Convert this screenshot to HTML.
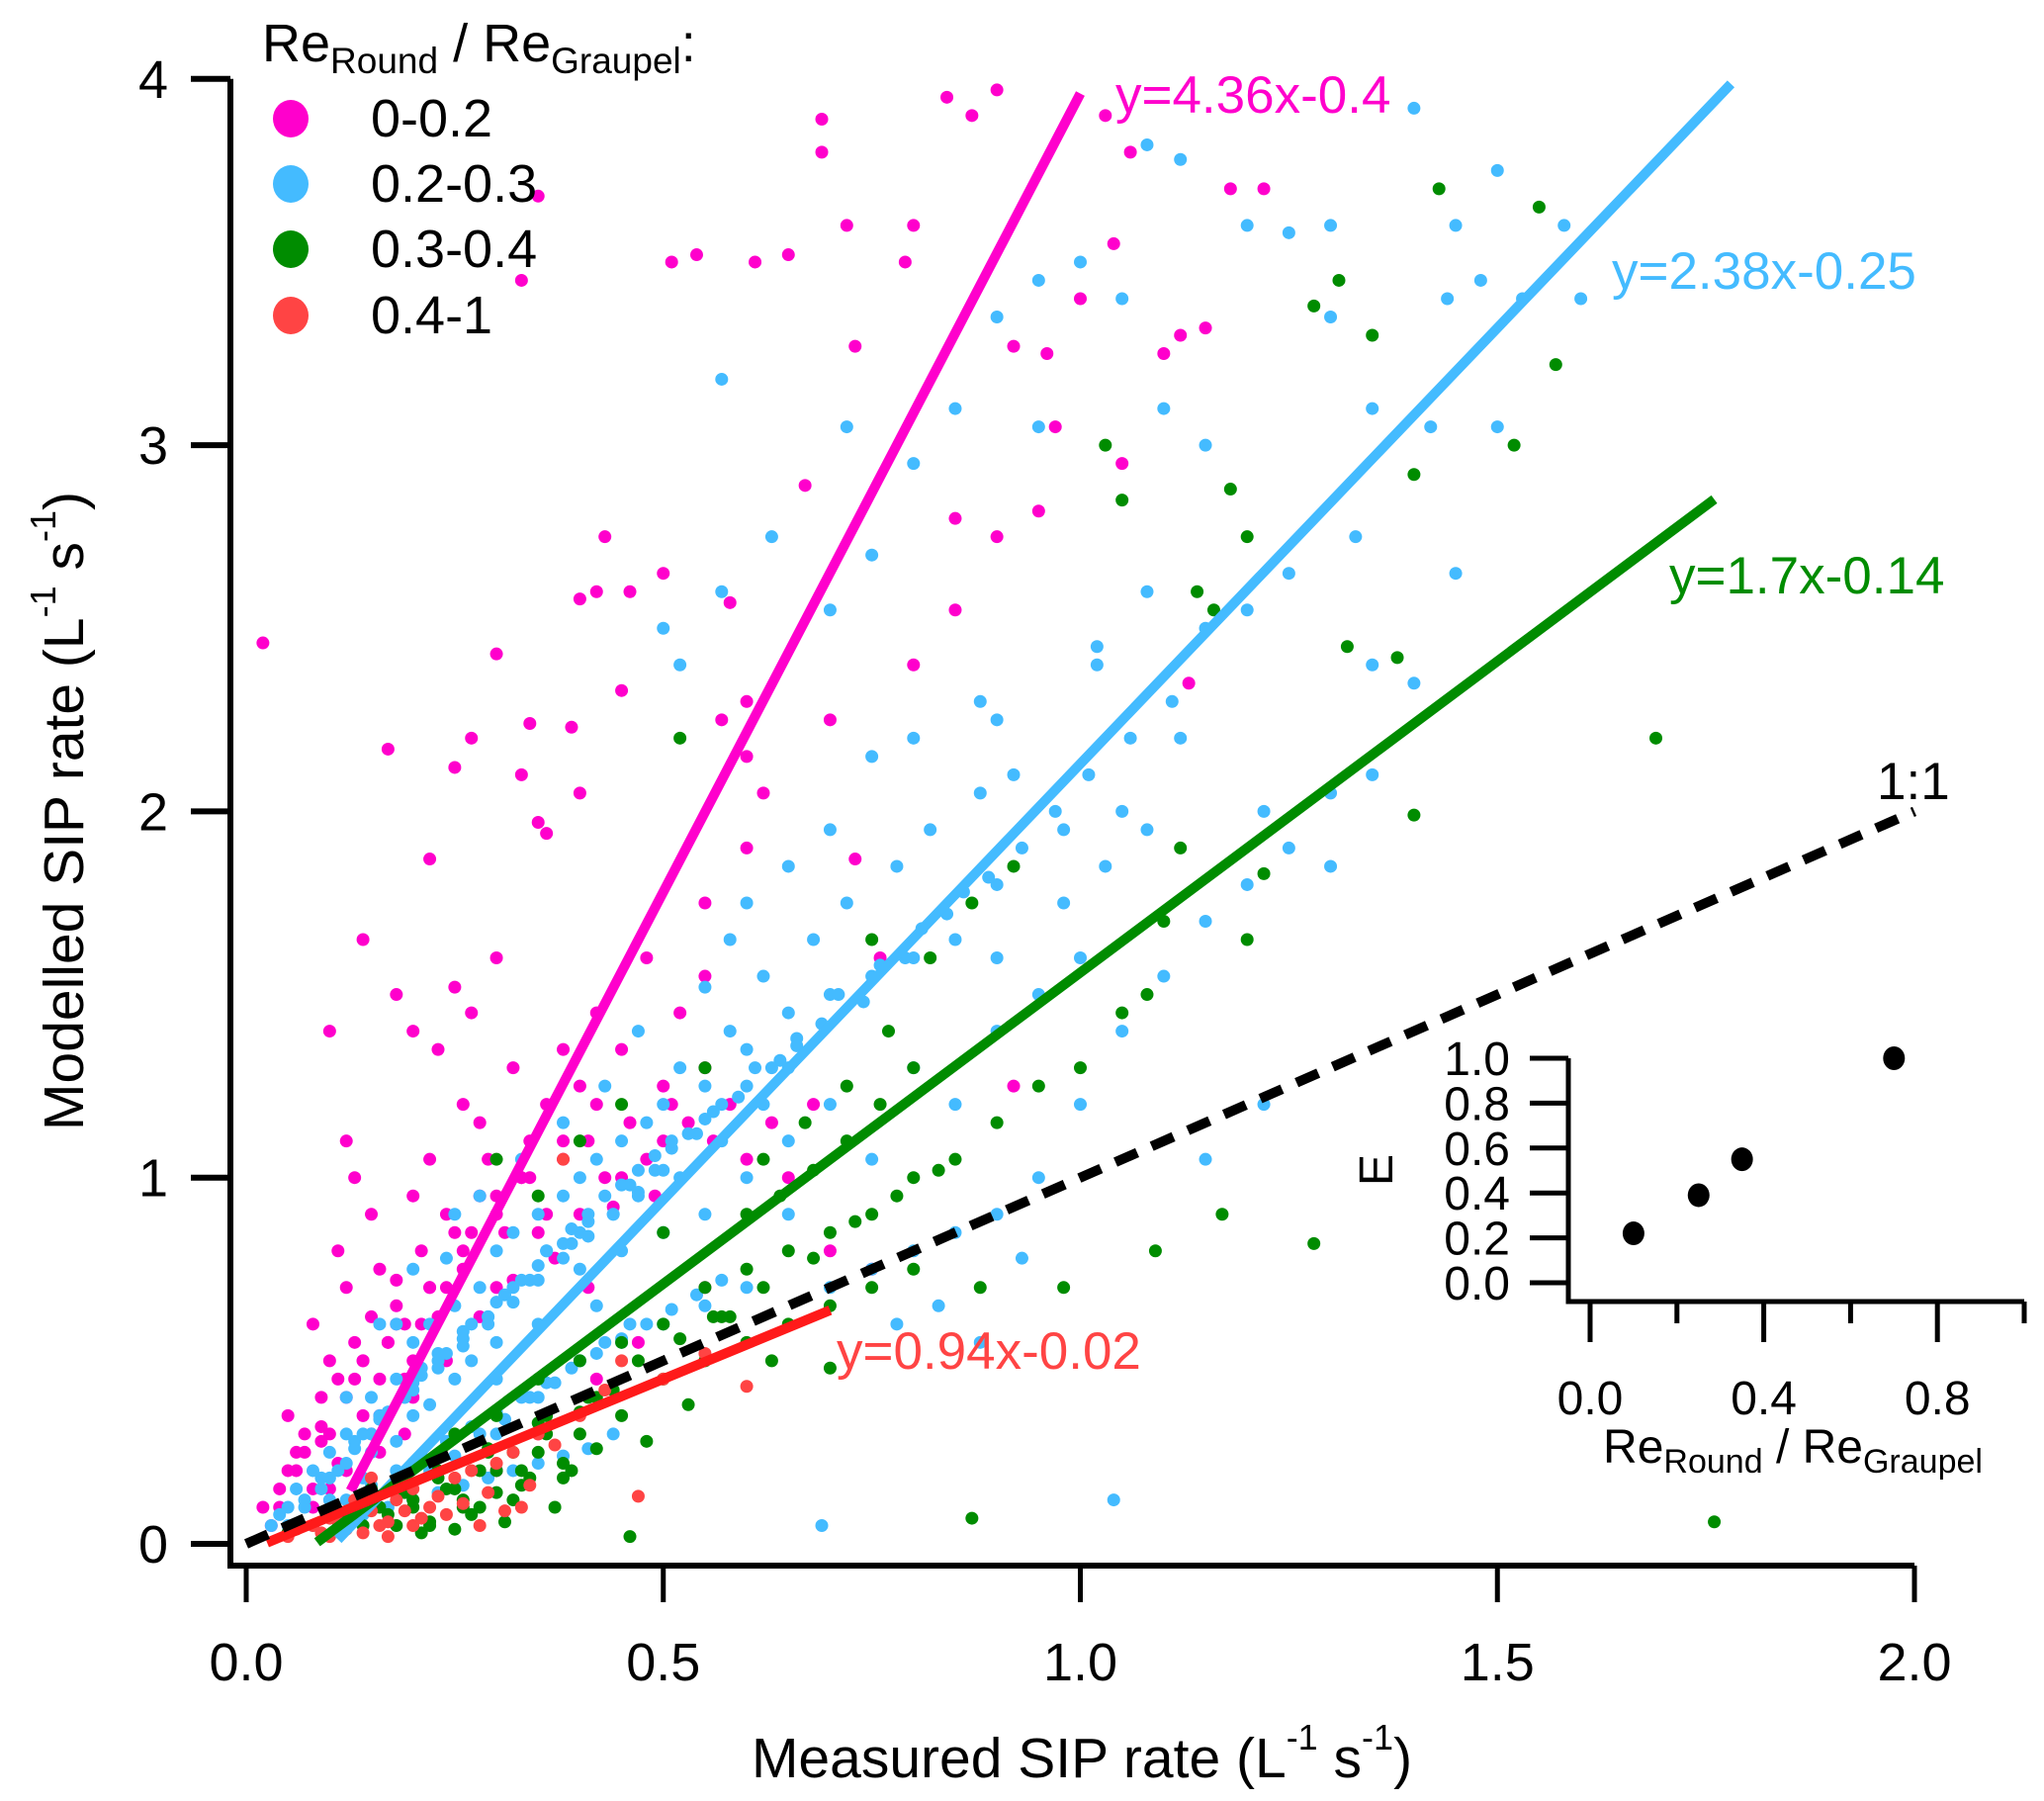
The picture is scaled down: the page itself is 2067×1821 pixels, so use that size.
<!DOCTYPE html>
<html><head><meta charset="utf-8"><style>
html,body{margin:0;padding:0;background:#fff;}
svg{display:block;font-family:"Liberation Sans",Arial,sans-serif;}
</style></head><body>
<svg id="chart" width="2067" height="1821" viewBox="0 0 2067 1821" xmlns="http://www.w3.org/2000/svg">
<g id="points"></g>
<g id="lines"></g>
<g id="axes"></g>
<g id="inset"></g>
<g>
<text x="265" y="62" font-size="54">Re<tspan font-size="37" dy="12">Round</tspan><tspan dy="-12"> / Re</tspan><tspan font-size="37" dy="12">Graupel</tspan><tspan dy="-12">:</tspan></text>
<g><ellipse cx="294" cy="120" rx="18" ry="19" fill="#ff00cc"/><text x="375" y="138" font-size="54">0-0.2</text></g>
<g><ellipse cx="294" cy="186" rx="18" ry="19" fill="#44bbff"/><text x="375" y="204" font-size="54">0.2-0.3</text></g>
<g><ellipse cx="294" cy="252" rx="18" ry="19" fill="#008c00"/><text x="375" y="270" font-size="54">0.3-0.4</text></g>
<g><ellipse cx="294" cy="319" rx="18" ry="19" fill="#ff4444"/><text x="375" y="337" font-size="54">0.4-1</text></g>
</g>
<text x="1128" y="114" font-size="53" fill="#ff00cc">y=4.36x-0.4</text>
<text x="1630" y="292" font-size="53" fill="#44bbff">y=2.38x-0.25</text>
<text x="1688" y="600" font-size="53" fill="#008c00">y=1.7x-0.14</text>
<text x="1898" y="808" font-size="53" fill="#000">1:1</text>
<text x="846" y="1384" font-size="53" fill="#ff4444">y=0.94x-0.02</text>
<text x="1094" y="1797" font-size="57" text-anchor="middle">Measured SIP rate (L<tspan font-size="36" dy="-28">-1</tspan><tspan dy="28"> s</tspan><tspan font-size="36" dy="-28">-1</tspan><tspan dy="28">)</tspan></text>
<text transform="translate(84,820) rotate(-90)" font-size="57" text-anchor="middle">Modelled SIP rate (L<tspan font-size="36" dy="-28">-1</tspan><tspan dy="28"> s</tspan><tspan font-size="36" dy="-28">-1</tspan><tspan dy="28">)</tspan></text>
</svg>
<script>
const NS="http://www.w3.org/2000/svg";
const xTicks=[0,0.5,1.0,1.5,2.0];
const xTickLabels=["0.0","0.5","1.0","1.5","2.0"];
const yTicks=[0,1,2,3,4];
const yTickLabels=["0","1","2","3","4"];
const magentaX=[0.02,0.17,0.35,0.33,0.69,0.69,0.72,0.84,0.87,0.9,0.8,0.79,0.73,0.65,0.51,0.54,0.61,0.5,0.43,0.42,0.46,0.4,0.58,0.67,0.3,0.27,0.25,0.22,0.34,0.35,0.36,0.33,0.45,0.39,0.57,0.6,0.4,0.48,0.55,0.6,0.73,0.76,0.97,0.92,0.96,1.0,1.04,1.03,1.06,1.1,1.12,1.15,1.18,1.05,0.8,0.85,0.9,0.95,0.1,0.12,0.14,0.18,0.2,0.23,0.25,0.27,0.3,0.15,0.12,0.08,0.1,0.05,0.07,0.04,0.06,0.09,0.11,0.13,0.16,0.18,0.2,0.22,0.24,0.26,0.28,0.3,0.32,0.34,0.36,0.38,0.4,0.42,0.45,0.5,0.52,0.55,0.17,0.19,0.21,0.14,0.16,0.12,0.03,0.02,0.08,0.1,0.3,0.35,0.4,0.45,0.5,0.6,0.65,0.7,0.75,0.92,0.3,0.35,0.42,0.47,0.55,0.85,0.6,0.62,0.7,0.55,1.13,1.22,0.06,0.09,0.11,0.13,0.15,0.18,0.21,0.24,0.27,0.29,0.33,0.37,0.41,0.44,0.49,0.53,0.58,0.63,0.68,
0.04,0.05,0.07,0.08,0.1,0.11,0.12,0.14,0.15,0.16,0.17,0.19,0.2,0.22,0.23,0.25,0.26,0.28,0.31,0.33,0.36,0.38,0.41,0.43,0.46,0.48,0.51,0.56,0.14,0.18,0.22,0.26,0.3,0.34,0.38,0.42,0.2,0.24,0.28,0.32,0.13,0.16,0.19,0.09];
const magentaY=[2.46,2.17,3.68,3.45,3.89,3.8,3.6,3.95,3.9,3.97,3.6,3.5,3.27,3.52,3.5,3.52,3.5,2.65,2.75,2.6,2.6,2.58,2.57,2.89,2.43,2.2,2.12,1.87,2.24,1.97,1.94,2.1,2.33,2.23,2.25,2.3,2.05,1.6,1.75,1.9,1.87,1.6,3.05,3.27,3.25,3.4,3.55,3.9,3.8,3.25,3.3,3.32,3.7,2.95,2.4,2.55,2.75,2.82,1.4,1.1,1.65,1.5,1.4,1.35,1.52,1.45,1.6,0.9,0.7,0.6,0.5,0.35,0.3,0.15,0.2,0.4,0.8,1.0,0.75,0.65,0.95,1.05,0.9,1.2,1.15,0.95,1.3,1.1,1.2,1.35,1.25,1.45,1.35,1.25,1.45,1.3,0.55,0.45,0.6,0.35,0.25,0.2,0.05,0.1,0.1,0.15,0.7,0.85,0.9,1.0,1.1,1.05,1.0,0.8,0.75,1.25,0.2,0.3,0.45,0.55,0.7,2.8,2.15,2.05,2.25,1.55,2.35,3.7,0.25,0.32,0.45,0.55,0.62,0.72,0.8,0.7,0.85,1.05,1.0,0.78,0.7,0.92,0.95,1.15,1.2,1.15,1.2,
0.1,0.2,0.25,0.15,0.3,0.22,0.4,0.5,0.3,0.45,0.55,0.6,0.5,0.7,0.62,0.85,0.75,0.95,0.85,1.0,0.9,1.05,1.1,1.0,1.15,1.05,1.2,1.1,0.5,0.6,0.7,0.8,0.9,1.0,1.1,1.2,0.4,0.5,0.62,0.72,0.45,0.35,0.3,0.28];
const blueX=[1.08,1.12,1.4,1.5,1.2,1.25,1.3,1.45,1.48,1.53,1.0,0.95,0.9,1.05,1.1,1.15,1.3,1.35,1.42,1.44,1.58,1.6,1.45,1.5,0.95,0.85,0.8,0.75,0.7,0.63,0.57,0.5,0.52,0.57,0.72,0.88,0.9,1.02,1.12,1.22,1.25,1.3,1.35,1.4,1.35,1.3,0.98,0.9,0.85,0.8,0.75,0.7,0.65,0.6,0.55,0.5,0.45,0.4,0.35,0.3,0.25,0.2,0.15,0.1,0.05,0.08,0.12,0.18,0.22,0.28,0.32,0.38,0.42,0.48,0.52,0.58,0.62,0.68,0.72,0.78,0.82,0.88,0.92,0.6,0.65,0.7,0.75,0.8,0.85,0.9,0.95,1.0,1.05,1.1,1.15,1.2,1.0,0.95,0.9,0.85,0.8,0.75,0.7,0.65,0.55,0.5,0.45,0.4,0.35,0.3,0.25,0.2,0.15,0.1,0.3,0.35,0.4,0.45,0.5,0.55,0.6,0.78,0.83,0.88,0.93,1.04,0.69,0.44,0.28,0.33,0.38,0.43,0.47,0.25,0.2,0.16,0.6,0.65,0.7,0.75,0.8,1.08,1.15,1.2,1.25,1.33,1.05,0.98,1.03,1.08,1.22,1.15,0.65,0.03,0.06,0.12,0.14,0.18,0.22,0.27,0.18,0.24,0.3,0.4,0.42,0.47,0.52,0.57,0.62,0.9,1.02,0.55,0.58,0.04,0.07,0.09,0.11,0.13,0.16,0.19,0.21,0.23,0.26,0.29,0.31,0.34,0.36,0.39,0.41,0.44,0.46,0.49,0.51,0.54,0.56,0.59,0.61,0.64,0.66,0.69,0.71,0.74,0.76,0.79,0.81,0.84,0.86,0.89,0.93,0.97,1.01,1.06,1.11,
0.05,0.07,0.09,0.1,0.12,0.13,0.15,0.16,0.17,0.19,0.2,0.21,0.23,0.24,0.26,0.27,0.29,0.3,0.32,0.33,0.35,0.36,0.38,0.39,0.41,0.43,0.45,0.47,0.49,0.51,0.53,0.55,0.57,0.6,0.63,0.66,0.12,0.15,0.18,0.21,0.24,0.27,0.3,0.33,0.36,0.39,0.42,0.45,0.48,0.51,0.54,0.57,0.14,0.17,0.2,0.23,0.26,0.29,0.32,0.35,0.38,0.41,0.44,0.47,0.5,0.22,0.25,0.28,0.31,0.34,0.37,0.4,0.43,0.46,0.08,0.11,0.14,0.17,0.2,0.23,0.26,0.29,0.32,0.35,0.38,0.41];
const blueY=[3.82,3.78,3.92,3.75,3.6,3.58,3.6,3.6,3.45,3.4,3.5,3.45,3.35,3.4,3.1,3.0,3.35,3.1,3.05,3.4,3.6,3.4,2.65,3.05,3.05,3.1,2.95,2.7,2.55,2.75,2.6,2.5,2.4,3.18,3.05,2.3,2.25,2.45,2.2,2.0,1.9,2.05,2.4,2.35,2.1,1.85,1.95,1.8,1.65,1.6,1.55,1.5,1.45,1.35,1.25,1.2,1.1,1.0,0.9,0.8,0.65,0.55,0.4,0.25,0.1,0.2,0.3,0.45,0.6,0.7,0.85,0.95,1.05,1.15,1.3,1.4,1.55,1.65,1.75,1.85,1.95,2.05,2.1,1.0,1.1,1.2,1.05,1.3,1.2,1.4,1.5,1.6,1.4,1.55,1.7,1.8,1.2,1.0,0.9,0.85,0.8,0.75,0.7,0.9,0.9,0.85,0.8,0.75,0.6,0.55,0.45,0.35,0.25,0.12,0.3,0.4,0.5,0.55,0.6,0.65,0.7,0.6,0.65,0.55,0.78,0.12,0.05,0.3,0.95,1.05,1.15,1.25,1.4,0.9,0.75,0.6,1.75,1.85,1.95,2.15,2.2,2.6,2.5,2.55,2.65,2.75,2.0,1.75,1.85,1.95,1.2,1.05,1.3,0.05,0.15,0.4,0.18,0.28,0.38,0.5,0.6,0.78,0.45,0.85,0.65,0.95,1.0,1.1,1.2,1.6,2.4,1.52,1.65,0.08,0.12,0.18,0.2,0.28,0.35,0.4,0.48,0.52,0.58,0.62,0.68,0.72,0.8,0.82,0.88,0.9,0.98,1.02,1.08,1.12,1.18,1.22,1.3,1.32,1.38,1.42,1.5,1.48,1.58,1.6,1.68,1.72,1.78,1.82,1.9,2.0,2.1,2.2,2.3,
0.05,0.1,0.15,0.18,0.22,0.26,0.3,0.34,0.36,0.4,0.44,0.46,0.5,0.52,0.56,0.6,0.62,0.66,0.7,0.72,0.76,0.8,0.82,0.86,0.9,0.95,0.98,1.02,1.06,1.1,1.12,1.16,1.2,1.25,1.3,1.36,0.12,0.16,0.2,0.24,0.28,0.32,0.36,0.4,0.44,0.48,0.52,0.56,0.6,0.64,0.68,0.72,0.3,0.36,0.42,0.48,0.54,0.6,0.66,0.72,0.78,0.84,0.9,0.96,1.02,0.2,0.24,0.3,0.34,0.4,0.44,0.5,0.55,0.6,0.05,0.06,0.08,0.1,0.12,0.14,0.16,0.18,0.2,0.22,0.24,0.26];
const greenX=[1.43,1.55,1.57,1.52,1.4,1.38,1.32,1.31,1.35,1.28,1.18,1.14,1.16,1.2,1.03,1.05,1.4,1.69,1.76,0.87,0.46,1.22,1.2,1.12,1.1,1.08,1.05,1.0,0.95,0.9,0.85,0.8,0.75,0.7,0.65,0.6,0.55,0.5,0.45,0.4,0.35,0.3,0.25,0.2,0.15,0.1,0.05,0.25,0.3,0.35,0.4,0.45,0.5,0.55,0.6,0.65,0.7,0.75,0.8,0.62,0.67,0.72,0.77,0.82,0.87,0.92,0.52,0.75,0.7,0.88,0.3,0.35,0.4,0.45,0.2,0.22,0.18,0.28,0.32,0.38,1.17,1.28,1.09,0.98,0.55,0.12,0.16,0.19,0.23,0.26,0.29,0.33,0.36,0.42,0.48,0.53,0.58,0.63,
0.14,0.17,0.2,0.22,0.24,0.26,0.28,0.3,0.32,0.34,0.36,0.38,0.4,0.42,0.44,0.21,0.25,0.27,0.31,0.33,0.37,0.39,0.23,0.29,0.35,0.41,0.47,0.52,0.57,0.62,0.68,0.73,0.78,0.83,0.6,0.64,0.68,0.72,0.76,0.8,0.56,0.5];
const greenY=[3.7,3.65,3.22,3.0,2.92,2.42,2.45,3.45,3.3,3.38,2.88,2.6,2.55,2.75,3.0,2.85,1.99,2.2,0.06,0.07,0.02,1.83,1.65,1.9,1.7,1.5,1.45,1.3,1.25,1.15,1.05,1.0,0.9,0.85,0.8,0.75,0.7,0.6,0.55,0.5,0.45,0.35,0.3,0.22,0.15,0.08,0.03,0.15,0.2,0.25,0.3,0.35,0.45,0.5,0.55,0.6,0.65,0.7,0.75,1.05,1.15,1.25,1.4,1.6,1.75,1.85,2.2,1.65,0.48,0.7,1.05,0.95,1.1,1.2,0.1,0.05,0.05,0.1,0.12,0.18,0.9,0.82,0.8,0.7,1.3,0.06,0.1,0.14,0.18,0.12,0.25,0.2,0.35,0.4,0.28,0.38,0.62,0.5,
0.05,0.08,0.12,0.06,0.15,0.1,0.2,0.14,0.25,0.18,0.3,0.22,0.36,0.26,0.42,0.03,0.04,0.08,0.06,0.16,0.1,0.2,0.2,0.26,0.33,0.4,0.5,0.56,0.62,0.7,0.78,0.88,0.95,1.02,0.9,0.95,1.02,1.1,1.2,1.3,0.62,0.85];
const redX=[0.37,0.47,0.28,0.33,0.05,0.08,0.1,0.12,0.15,0.18,0.2,0.22,0.25,0.27,0.3,0.32,0.35,0.4,0.43,0.45,0.5,0.55,0.6,0.38,0.14,0.17,0.1,0.2,0.24,0.06,0.09,0.11,0.13,0.16,0.19,0.21,0.23,0.26,0.29,0.31,0.34,0.13,0.15,0.17];
const redY=[0.27,0.13,0.05,0.1,0.02,0.05,0.07,0.04,0.09,0.12,0.15,0.1,0.18,0.2,0.22,0.25,0.3,0.35,0.42,0.5,0.45,0.52,0.43,1.05,0.03,0.06,0.02,0.05,0.08,0.04,0.03,0.06,0.08,0.05,0.09,0.07,0.13,0.11,0.14,0.09,0.16,0.12,0.18,0.02];
const insetRatio=[0.1,0.25,0.35,0.7];
const insetE=[0.22,0.39,0.55,1.0];
const insetXTicks=[0,0.2,0.4,0.6,0.8,1.0];
const insetXLabels=["0.0","","0.4","","0.8",""];
const insetYTicks=[0,0.2,0.4,0.6,0.8,1.0];
const insetYLabels=["0.0","0.2","0.4","0.6","0.8","1.0"];

const X=v=>249+v*843.5, Y=v=>1561-v*370.3;
const IX=v=>1608+v*439, IY=v=>1297-v*227;
function mk(tag,attrs,parent){const e=document.createElementNS(NS,tag);for(const k in attrs)e.setAttribute(k,attrs[k]);parent.appendChild(e);return e;}
const pts=document.getElementById('points');
function series(xs,ys,color,name){
  const g=mk('g',{},pts);
  
  
  xs.forEach((x,i)=>{const c=mk('circle',{cx:X(x),cy:Y(ys[i]),r:6.5,fill:color},g);
    
    });
}
series(magentaX,magentaY,'#ff00cc','series-0-0.2');
series(blueX,blueY,'#44bbff','series-0.2-0.3');
series(greenX,greenY,'#008c00','series-0.3-0.4');
series(redX,redY,'#ff4444','series-0.4-1');

const slopes=[4.36,2.38,1.7,0.94,1];
const intercepts=[-0.4,-0.25,-0.14,-0.02,0];
const fitStart=[0.125,0.11,0.085,0.025,0];
const fitEnd=[1.0,1.78,1.76,0.70,2.0];
const fitColors=['#ff00cc','#44bbff','#008c00','#ff1a1a','#000'];
const fitNames=['fit-line-0-0.2','fit-line-0.2-0.3','fit-line-0.3-0.4','fit-line-0.4-1','one-to-one-line'];
const lg=document.getElementById('lines');
slopes.forEach((m,i)=>{
  const x0=fitStart[i],x1=fitEnd[i];
  const l=mk('line',{x1:X(x0),y1:Y(m*x0+intercepts[i]),x2:X(x1),y2:Y(m*x1+intercepts[i]),stroke:fitColors[i],'stroke-width':10},lg);
  if(i===4){l.setAttribute('stroke-dasharray','24,16');}
  
  
});

const ax=document.getElementById('axes');
mk('path',{d:`M233 ${Y(4)} V1583 H${X(2)}`,fill:'none',stroke:'#000','stroke-width':6},ax);
xTicks.forEach((t,i)=>{
  const tk=mk('line',{x1:X(t),y1:1583,x2:X(t),y2:1620,stroke:'#000','stroke-width':5},ax);
  
  
  const tx=mk('text',{x:X(t),y:1699,'font-size':54,'text-anchor':'middle'},ax);
  tx.textContent=xTickLabels[i];
  
  
});
yTicks.forEach((t,i)=>{
  const tk=mk('line',{x1:193,y1:Y(t),x2:233,y2:Y(t),stroke:'#000','stroke-width':6},ax);
  
  
  const tx=mk('text',{x:170,y:Y(t)+19,'font-size':54,'text-anchor':'end'},ax);
  tx.textContent=yTickLabels[i];
  
  
});

const ins=document.getElementById('inset');
mk('path',{d:`M1586 ${IY(1)} V1316 H${IX(1)}`,fill:'none',stroke:'#000','stroke-width':5},ins);
insetXTicks.forEach((t,i)=>{
  const tk=mk('line',{x1:IX(t),y1:1316,x2:IX(t),y2:(i%2===0)?1357:1338,stroke:'#000','stroke-width':5},ins);
  
  
  if(insetXLabels[i]){const tx=mk('text',{x:IX(t),y:1430,'font-size':48,'text-anchor':'middle'},ins);
    tx.textContent=insetXLabels[i];
    
    }
});
insetYTicks.forEach((t,i)=>{
  const tk=mk('line',{x1:1547,y1:IY(t),x2:1586,y2:IY(t),stroke:'#000','stroke-width':5},ins);
  
  
  const tx=mk('text',{x:1527,y:IY(t)+17,'font-size':48,'text-anchor':'end'},ins);
  tx.textContent=insetYLabels[i];
  
  
});
insetRatio.forEach((r,i)=>{
  const c=mk('ellipse',{cx:IX(r),cy:IY(insetE[i]),rx:11,ry:12,fill:'#000'},ins);
  
  
});
const it=mk('text',{x:1813,y:1479,'font-size':48,'text-anchor':'middle'},ins);
it.innerHTML='Re<tspan font-size="34" dy="10">Round</tspan><tspan dy="-10"> / Re</tspan><tspan font-size="34" dy="10">Graupel</tspan>';


const ie=mk('text',{transform:'translate(1408,1183) rotate(-90)','font-size':48,'text-anchor':'middle'},ins);
ie.textContent='E';


</script>
</body></html>
